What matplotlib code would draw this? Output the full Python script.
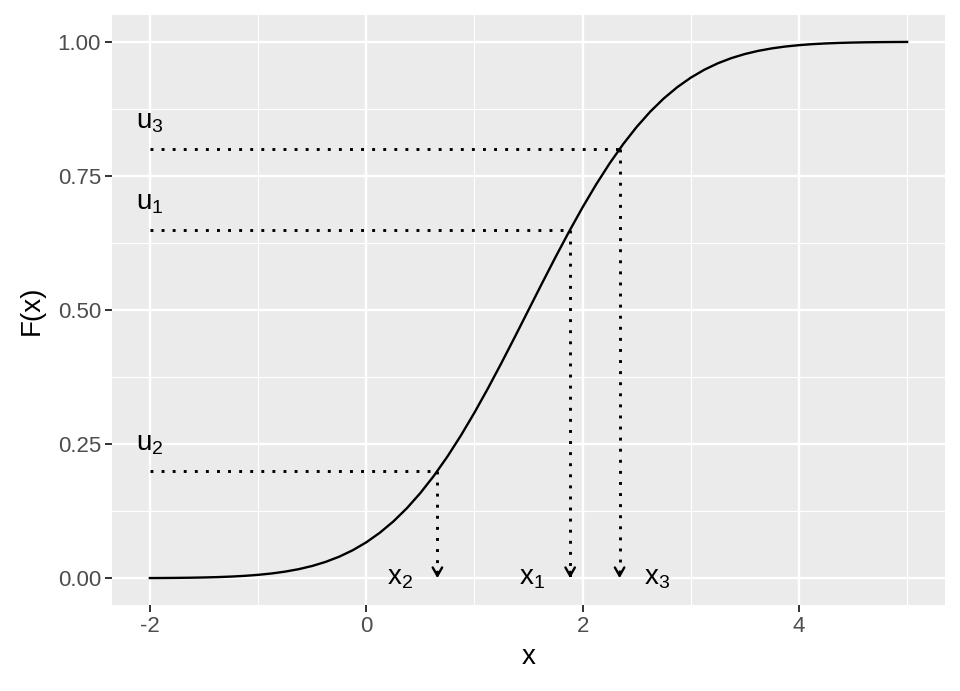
import matplotlib
matplotlib.use("Agg")
import matplotlib.pyplot as plt

# Curve values
curve_x = [-2.0 + 0.125 * i for i in range(57)]
curve_y = [0.00023, 0.00037, 0.00058, 0.00089, 0.00135, 0.00202, 0.00298, 0.00433,
           0.00621, 0.00877, 0.01222, 0.01679, 0.02275, 0.03040, 0.04006, 0.05208,
           0.06681, 0.08460, 0.10565, 0.13029, 0.15866, 0.19079, 0.22663, 0.26599,
           0.30854, 0.35383, 0.40129, 0.45026, 0.5, 0.54974, 0.59871, 0.64617,
           0.69146, 0.73401, 0.77337, 0.80921, 0.84134, 0.86971, 0.89435, 0.91540,
           0.93319, 0.94792, 0.95994, 0.96960, 0.97725, 0.98321, 0.98778, 0.99123,
           0.99379, 0.99567, 0.99702, 0.99798, 0.99865, 0.99911, 0.99942, 0.99963,
           0.99977]

u_vals = [0.65, 0.20, 0.80]
x_vals = [1.885, 0.658, 2.342]
u_labels = [r"$\mathregular{u_1}$", r"$\mathregular{u_2}$", r"$\mathregular{u_3}$"]
x_labels = [r"$\mathregular{x_1}$", r"$\mathregular{x_2}$", r"$\mathregular{x_3}$"]
x_start = -2.0
label_offsets = [-0.35, -0.35, 0.35]
u_label_offset = 0.05

xticks = [-2, 0, 2, 4]
xtick_labels = ["-2", "0", "2", "4"]
yticks = [0.0, 0.25, 0.5, 0.75, 1.0]
ytick_labels = ["0.00", "0.25", "0.50", "0.75", "1.00"]

plt.rcParams['mathtext.fontset'] = 'custom'
plt.rcParams['mathtext.rm'] = 'Liberation Sans'
plt.rcParams['font.family'] = ['Liberation Sans', 'DejaVu Sans']

fig = plt.figure(figsize=(9.6, 6.91), dpi=100)
ax = fig.add_axes([112/960, 1-605/691, (945-112)/960, (605-15)/691])
ax.set_facecolor('#EBEBEB')
for s in ax.spines.values():
    s.set_visible(False)

ax.set_xlim(-2.35, 5.35)
ax.set_ylim(-0.05, 1.05)
ax.set_xticks(xticks)
ax.set_xticklabels(xtick_labels)
ax.set_yticks(yticks)
ax.set_yticklabels(ytick_labels)
ax.set_xticks([-1, 1, 3, 5], minor=True)
ax.set_yticks([0.125, 0.375, 0.625, 0.875], minor=True)
ax.grid(which='major', color='white', linewidth=1.7)
ax.grid(which='minor', color='white', linewidth=0.85)
ax.set_axisbelow(True)
ax.tick_params(which='major', length=5, width=1.4, color='#333333',
               labelsize=16, labelcolor='#4D4D4D', pad=3)
ax.tick_params(which='minor', length=0)

ax.plot(curve_x, curve_y, color='black', linewidth=1.7, zorder=3,
        solid_joinstyle='round')

dot_style = (0, (1, 2.8))
for u, xv, ul in zip(u_vals, x_vals, u_labels):
    ax.plot([x_start, xv], [u, u], color='black', linewidth=2.1,
            linestyle=dot_style, zorder=3)
    ax.plot([xv, xv], [u, 0.0], color='black', linewidth=2.1,
            linestyle=dot_style, zorder=3)
    ax.annotate('', xy=(xv, 0), xytext=(xv, 0.012),
                arrowprops=dict(arrowstyle='->,head_length=0.6,head_width=0.34',
                                color='black', linewidth=1.7,
                                shrinkA=0, shrinkB=0),
                zorder=3)
    ax.text(x_start, u + u_label_offset, ul, ha='center', va='center', fontsize=20)

for xv, xl, off in zip(x_vals, x_labels, label_offsets):
    ax.text(xv + off, 0.0, xl, ha='center', va='center', fontsize=20)

ax.set_xlabel('x', fontsize=20, labelpad=5)
ax.set_ylabel('F(x)', fontsize=20, labelpad=9)

fig.savefig('out.png', dpi=100, facecolor='white')
